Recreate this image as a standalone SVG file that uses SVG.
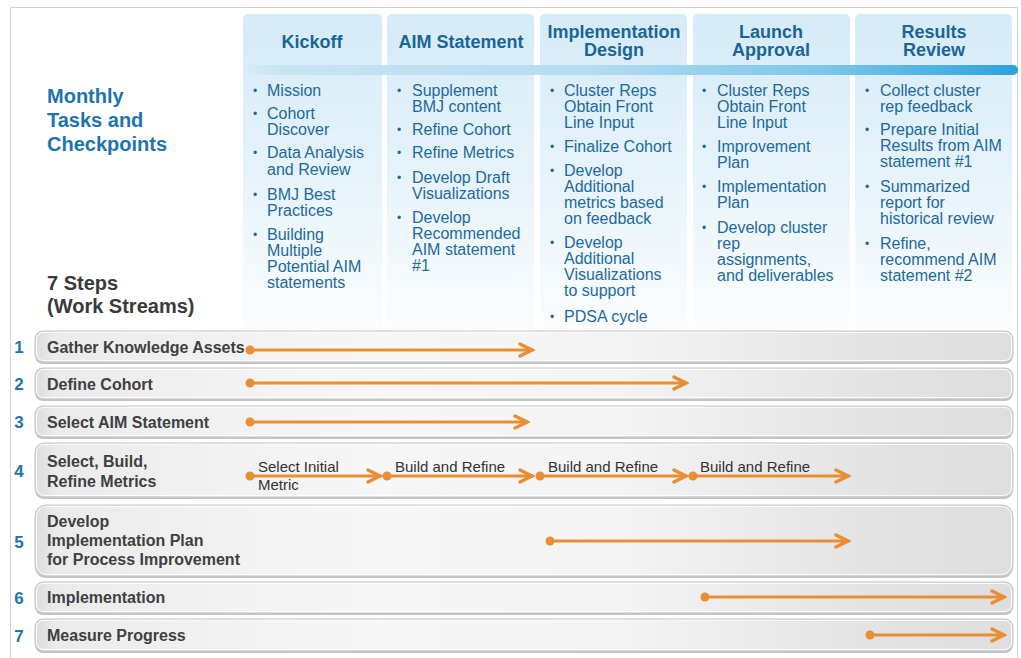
<svg xmlns="http://www.w3.org/2000/svg" width="1021" height="658" viewBox="0 0 1021 658">
<defs>
<style>
.hdr{font-family:"Liberation Sans",Arial,sans-serif;font-weight:bold;font-size:18px;fill:#1b6596;text-anchor:middle}
.itm{font-family:"Liberation Sans",Arial,sans-serif;font-size:16px;fill:#1d6a9b}
.bul{font-family:"Liberation Sans",Arial,sans-serif;font-size:12px;fill:#1d6a9b}
.ttl{font-family:"Liberation Sans",Arial,sans-serif;font-weight:bold;font-size:20px;fill:#1e74ad}
.stp{font-family:"Liberation Sans",Arial,sans-serif;font-weight:bold;font-size:20px;fill:#3a3a3a}
.num{font-family:"Liberation Sans",Arial,sans-serif;font-weight:bold;font-size:17px;fill:#1e74ad;text-anchor:middle}
.lbl{font-family:"Liberation Sans",Arial,sans-serif;font-weight:bold;font-size:16px;fill:#404040}
.sub{font-family:"Liberation Sans",Arial,sans-serif;font-size:15px;fill:#333333}
.panel{fill:url(#pg)}
.bar{fill:url(#bg);stroke:#c6c6c6;stroke-width:1}
.barsh{fill:#c2c2c2}
.barhi{fill:none;stroke:#ffffff;stroke-opacity:0.85;stroke-width:1}
.arr{stroke:#e88f34;stroke-width:3;fill:none;marker-start:url(#dot);marker-end:url(#head)}
</style>
<linearGradient id="pg" x1="0" y1="0" x2="0" y2="1">
<stop offset="0" stop-color="#d5ebf8"/>
<stop offset="0.5" stop-color="#e6f3fa"/>
<stop offset="1" stop-color="#fbfdfe"/>
</linearGradient>
<linearGradient id="band" x1="0" y1="0" x2="1" y2="0">
<stop offset="0" stop-color="#cfe7f4" stop-opacity="0.3"/>
<stop offset="0.05" stop-color="#c8e4f3"/>
<stop offset="0.45" stop-color="#b3dcf1"/>
<stop offset="0.75" stop-color="#7cc6ea"/>
<stop offset="1" stop-color="#2aa3dc"/>
</linearGradient>
<linearGradient id="bg" x1="0" y1="0" x2="1" y2="0">
<stop offset="0" stop-color="#dcdcdc"/>
<stop offset="0.02" stop-color="#ebebeb"/>
<stop offset="0.35" stop-color="#f7f7f7"/>
<stop offset="0.6" stop-color="#f3f3f3"/>
<stop offset="0.85" stop-color="#e4e4e4"/>
<stop offset="1" stop-color="#dedede"/>
</linearGradient>
<marker id="head" markerUnits="userSpaceOnUse" viewBox="-16 -9 18 18" refX="0" refY="0" markerWidth="18" markerHeight="18" orient="auto">
<path d="M-13,-6 L-1,0 L-13,6" fill="none" stroke="#e88f34" stroke-width="3.5" stroke-linecap="round" stroke-linejoin="miter"/>
</marker>
<marker id="dot" markerUnits="userSpaceOnUse" viewBox="-6 -6 12 12" refX="0" refY="0" markerWidth="12" markerHeight="12" orient="auto">
<circle cx="0" cy="0" r="4.5" fill="#e88f34"/>
</marker>
</defs>

<rect x="10.5" y="7.5" width="1007" height="670" fill="#ffffff" stroke="#d2d2d2" stroke-width="1"/>

<g id="panels">
<rect class="panel" x="243" y="14" width="139" height="316" rx="5"/>
<rect class="panel" x="387" y="14" width="147" height="316" rx="5"/>
<rect class="panel" x="540" y="14" width="147" height="316" rx="5"/>
<rect class="panel" x="693" y="14" width="157" height="316" rx="5"/>
<rect class="panel" x="855" y="14" width="157" height="316" rx="5"/>
<rect x="243" y="65" width="775" height="10" rx="5" fill="url(#band)"/>
</g>

<g id="title">
<text class="ttl" x="47" y="103">Monthly</text>
<text class="ttl" x="47" y="127">Tasks and</text>
<text class="ttl" x="47" y="151">Checkpoints</text>
<text class="stp" x="47" y="290">7 Steps</text>
<text class="stp" x="47" y="313">(Work Streams)</text>
</g>

<g id="col-kickoff">
<text class="hdr" x="312" y="48">Kickoff</text>
<g class="bul"><text x="253" y="95">•</text><text x="253" y="118">•</text><text x="253" y="157">•</text><text x="253" y="199">•</text><text x="253" y="239">•</text></g>
<text class="itm" x="267"><tspan x="267" y="96">Mission</tspan><tspan x="267" y="119">Cohort</tspan><tspan x="267" y="135">Discover</tspan><tspan x="267" y="158">Data Analysis</tspan><tspan x="267" y="175">and Review</tspan><tspan x="267" y="200">BMJ Best</tspan><tspan x="267" y="216">Practices</tspan><tspan x="267" y="240">Building</tspan><tspan x="267" y="256">Multiple</tspan><tspan x="267" y="272">Potential AIM</tspan><tspan x="267" y="288">statements</tspan></text>
</g>

<g id="col-aim">
<text class="hdr" x="461" y="48">AIM Statement</text>
<g class="bul"><text x="397" y="95">•</text><text x="397" y="134">•</text><text x="397" y="157">•</text><text x="397" y="182">•</text><text x="397" y="222">•</text></g>
<text class="itm" x="412"><tspan x="412" y="96">Supplement</tspan><tspan x="412" y="112">BMJ content</tspan><tspan x="412" y="135">Refine Cohort</tspan><tspan x="412" y="158">Refine Metrics</tspan><tspan x="412" y="183">Develop Draft</tspan><tspan x="412" y="199">Visualizations</tspan><tspan x="412" y="223">Develop</tspan><tspan x="412" y="239">Recommended</tspan><tspan x="412" y="255">AIM statement</tspan><tspan x="412" y="271">#1</tspan></text>
</g>

<g id="col-impl">
<text class="hdr" x="614" y="38">Implementation</text>
<text class="hdr" x="614" y="56">Design</text>
<g class="bul"><text x="550" y="95">•</text><text x="550" y="151">•</text><text x="550" y="175">•</text><text x="550" y="247">•</text><text x="550" y="321">•</text></g>
<text class="itm" x="564"><tspan x="564" y="96">Cluster Reps</tspan><tspan x="564" y="112">Obtain Front</tspan><tspan x="564" y="128">Line Input</tspan><tspan x="564" y="152">Finalize Cohort</tspan><tspan x="564" y="176">Develop</tspan><tspan x="564" y="192">Additional</tspan><tspan x="564" y="208">metrics based</tspan><tspan x="564" y="224">on feedback</tspan><tspan x="564" y="248">Develop</tspan><tspan x="564" y="264">Additional</tspan><tspan x="564" y="280">Visualizations</tspan><tspan x="564" y="296">to support</tspan><tspan x="564" y="322">PDSA cycle</tspan></text>
</g>

<g id="col-launch">
<text class="hdr" x="771" y="38">Launch</text>
<text class="hdr" x="771" y="56">Approval</text>
<g class="bul"><text x="702" y="95">•</text><text x="702" y="151">•</text><text x="702" y="191">•</text><text x="702" y="232">•</text></g>
<text class="itm" x="717"><tspan x="717" y="96">Cluster Reps</tspan><tspan x="717" y="112">Obtain Front</tspan><tspan x="717" y="128">Line Input</tspan><tspan x="717" y="152">Improvement</tspan><tspan x="717" y="168">Plan</tspan><tspan x="717" y="192">Implementation</tspan><tspan x="717" y="208">Plan</tspan><tspan x="717" y="233">Develop cluster</tspan><tspan x="717" y="249">rep</tspan><tspan x="717" y="265">assignments,</tspan><tspan x="717" y="281">and deliverables</tspan></text>
</g>

<g id="col-results">
<text class="hdr" x="934" y="38">Results</text>
<text class="hdr" x="934" y="56">Review</text>
<g class="bul"><text x="865" y="95">•</text><text x="865" y="134">•</text><text x="865" y="191">•</text><text x="865" y="248">•</text></g>
<text class="itm" x="880"><tspan x="880" y="96">Collect cluster</tspan><tspan x="880" y="112">rep feedback</tspan><tspan x="880" y="135">Prepare Initial</tspan><tspan x="880" y="151">Results from AIM</tspan><tspan x="880" y="167">statement #1</tspan><tspan x="880" y="192">Summarized</tspan><tspan x="880" y="208">report for</tspan><tspan x="880" y="224">historical review</tspan><tspan x="880" y="249">Refine,</tspan><tspan x="880" y="265">recommend AIM</tspan><tspan x="880" y="281">statement #2</tspan></text>
</g>

<g id="row1">
<rect class="barsh" x="35" y="333" width="978" height="31" rx="8"/>
<rect class="bar" x="35" y="331" width="978" height="31" rx="8"/>
<rect class="barhi" x="36.5" y="332.5" width="975" height="28" rx="7"/>
<text class="num" x="19" y="353">1</text>
<text class="lbl" x="47" y="353">Gather Knowledge Assets</text>
</g>
<g id="row2">
<rect class="barsh" x="35" y="370" width="978" height="31" rx="8"/>
<rect class="bar" x="35" y="368" width="978" height="31" rx="8"/>
<rect class="barhi" x="36.5" y="369.5" width="975" height="28" rx="7"/>
<text class="num" x="19" y="390">2</text>
<text class="lbl" x="47" y="390">Define Cohort</text>
</g>
<g id="row3">
<rect class="barsh" x="35" y="408" width="978" height="31" rx="8"/>
<rect class="bar" x="35" y="406" width="978" height="31" rx="8"/>
<rect class="barhi" x="36.5" y="407.5" width="975" height="28" rx="7"/>
<text class="num" x="19" y="428">3</text>
<text class="lbl" x="47" y="428">Select AIM Statement</text>
</g>
<g id="row4">
<rect class="barsh" x="35" y="445" width="978" height="54" rx="9"/>
<rect class="bar" x="35" y="443" width="978" height="54" rx="9"/>
<rect class="barhi" x="36.5" y="444.5" width="975" height="51" rx="8"/>
<text class="num" x="19" y="477">4</text>
<text class="lbl" x="47" y="467">Select, Build,</text>
<text class="lbl" x="47" y="487">Refine Metrics</text>
<text class="sub" x="258" y="472">Select Initial</text>
<text class="sub" x="258" y="490">Metric</text>
<text class="sub" x="395" y="472">Build and Refine</text>
<text class="sub" x="548" y="472">Build and Refine</text>
<text class="sub" x="700" y="472">Build and Refine</text>
</g>
<g id="row5">
<rect class="barsh" x="35" y="507" width="978" height="71" rx="11"/>
<rect class="bar" x="35" y="505" width="978" height="71" rx="11"/>
<rect class="barhi" x="36.5" y="506.5" width="975" height="68" rx="10"/>
<text class="num" x="19" y="548">5</text>
<text class="lbl" x="47" y="527">Develop</text>
<text class="lbl" x="47" y="546">Implementation Plan</text>
<text class="lbl" x="47" y="565">for Process Improvement</text>
</g>
<g id="row6">
<rect class="barsh" x="35" y="584" width="978" height="31" rx="8"/>
<rect class="bar" x="35" y="582" width="978" height="31" rx="8"/>
<rect class="barhi" x="36.5" y="583.5" width="975" height="28" rx="7"/>
<text class="num" x="19" y="604">6</text>
<text class="lbl" x="47" y="603">Implementation</text>
</g>
<g id="row7">
<rect class="barsh" x="35" y="621" width="978" height="32" rx="8"/>
<rect class="bar" x="35" y="619" width="978" height="32" rx="8"/>
<rect class="barhi" x="36.5" y="620.5" width="975" height="29" rx="7"/>
<text class="num" x="19" y="642">7</text>
<text class="lbl" x="47" y="641">Measure Progress</text>
</g>

<g id="connectors">
<line class="arr" x1="250" y1="350" x2="533" y2="350"/>
<line class="arr" x1="250" y1="383" x2="687" y2="383"/>
<line class="arr" x1="250" y1="422" x2="528" y2="422"/>
<line class="arr" x1="250" y1="476" x2="381" y2="476"/>
<line class="arr" x1="387" y1="476" x2="533" y2="476"/>
<line class="arr" x1="540" y1="476" x2="687" y2="476"/>
<line class="arr" x1="693" y1="476" x2="849" y2="476"/>
<line class="arr" x1="550" y1="541" x2="849" y2="541"/>
<line class="arr" x1="705" y1="597" x2="1005" y2="597"/>
<line class="arr" x1="870" y1="635" x2="1005" y2="635"/>
</g>
</svg>
